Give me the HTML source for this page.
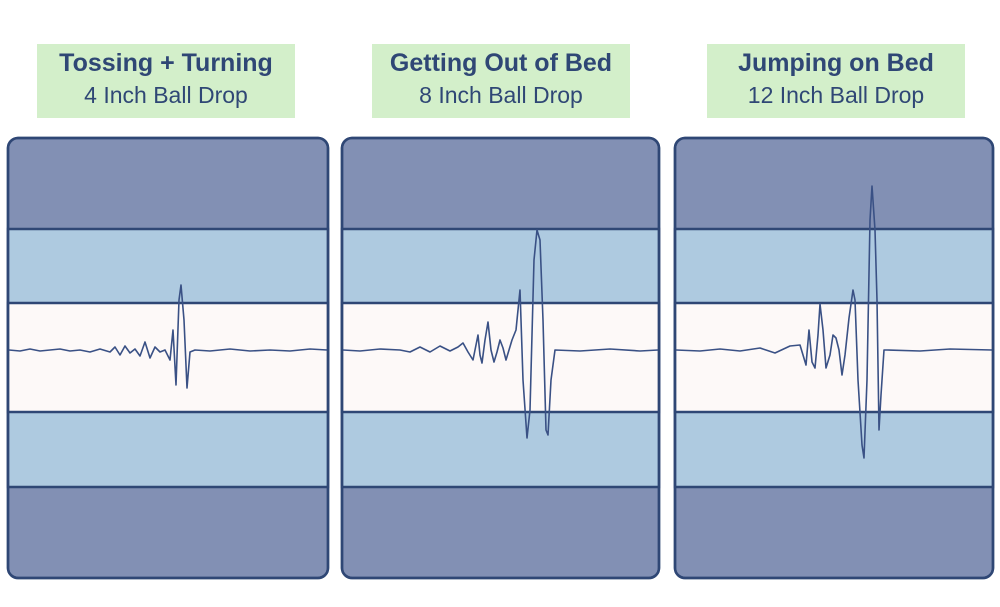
<!DOCTYPE html>
<html><head><style>
body{margin:0;width:1000px;height:607px;background:#fff;overflow:hidden;font-family:"Liberation Sans",sans-serif}
.lab{position:absolute;top:44px;height:74px;background:#d3efca;text-align:center;color:#2f4775}
.lab b{display:block;font-size:25px;margin-top:5px;font-weight:bold}
.lab span{display:block;font-size:23px;margin-top:4px}
</style></head><body>
<div class="lab" style="left:37px;width:258px"><b>Tossing + Turning</b><span>4 Inch Ball Drop</span></div>
<div class="lab" style="left:372px;width:258px"><b>Getting Out of Bed</b><span>8 Inch Ball Drop</span></div>
<div class="lab" style="left:707px;width:258px"><b>Jumping on Bed</b><span>12 Inch Ball Drop</span></div>
<svg width="1000" height="607" style="position:absolute;left:0;top:0">
<g stroke="#2f4775" stroke-width="2.5">
<g>
<rect x="8" y="138" width="320" height="440" rx="10" fill="#8290b4"/>
<rect x="8" y="229" width="320" height="258" fill="#aecae0"/>
<rect x="8" y="303" width="320" height="109" fill="#fdf9f8"/>
<rect x="8" y="138" width="320" height="440" rx="10" fill="none"/>
</g>
<g>
<rect x="342" y="138" width="317" height="440" rx="10" fill="#8290b4"/>
<rect x="342" y="229" width="317" height="258" fill="#aecae0"/>
<rect x="342" y="303" width="317" height="109" fill="#fdf9f8"/>
<rect x="342" y="138" width="317" height="440" rx="10" fill="none"/>
</g>
<g>
<rect x="675" y="138" width="318" height="440" rx="10" fill="#8290b4"/>
<rect x="675" y="229" width="318" height="258" fill="#aecae0"/>
<rect x="675" y="303" width="318" height="109" fill="#fdf9f8"/>
<rect x="675" y="138" width="318" height="440" rx="10" fill="none"/>
</g>
</g>
<g fill="none" stroke="#3a5185" stroke-width="1.6" stroke-linejoin="round">
<polyline points="9,350 20,351 30,349 40,351 50,350 60,349 70,351 80,350 90,352 100,349 110,352 115,347 120,355 125,346 130,353 135,349 140,356 145,342 150,358 155,347 160,352 165,350 170,360 173,330 176,385 179,300 181,285 184,320 187,388 190,352 195,350 210,351 230,349 250,351 270,350 290,351 310,349 327,350"/>
<polyline points="343,350 360,351 380,349 400,350 410,352 420,347 430,352 440,346 450,351 458,347 463,343 468,352 473,360 478,335 480,355 482,363 485,340 488,322 491,350 494,362 497,352 500,340 503,348 506,360 512,340 516,330 520,290 523,380 527,438 530,410 534,260 537,230 540,240 543,320 546,430 548,435 551,380 555,350 580,351 610,349 640,351 658,350"/>
<polyline points="676,350 700,351 720,349 740,351 760,348 775,353 790,346 800,345 803,355 806,365 809,330 812,362 815,368 818,335 820,304 823,330 826,368 830,355 833,335 836,338 839,350 842,375 845,355 849,318 853,290 855,300 858,380 862,445 864,458 867,380 870,220 872,186 875,230 877,300 879,430 881,395 884,350 887,350 920,351 950,349 992,350"/>
</g>
</svg>
</body></html>
